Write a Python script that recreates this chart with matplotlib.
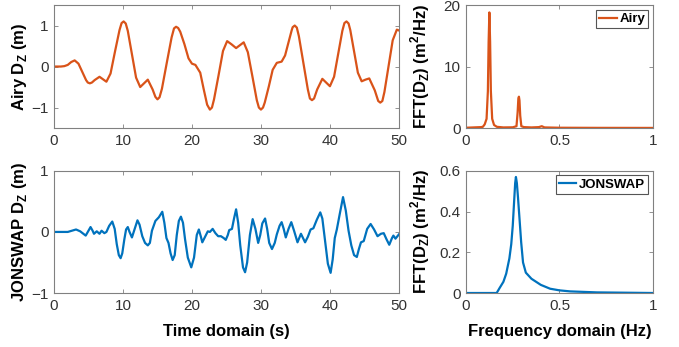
import numpy as np
import matplotlib
matplotlib.use('Agg')
import matplotlib.pyplot as plt

plt.rcParams['font.family'] = ['Liberation Sans', 'DejaVu Sans']
plt.rcParams['mathtext.fontset'] = 'custom'
plt.rcParams['mathtext.rm'] = 'Liberation Sans'
plt.rcParams['mathtext.bf'] = 'Liberation Sans:bold'

orange = '#D95319'
blue = '#0072BD'

# Airy time series (t in s, D_z in m)
airy_t = [0, 1.0, 1.5, 2.0, 2.5, 3.0, 3.55, 4.1, 4.65, 4.9, 5.2, 5.5, 5.9, 6.6, 7.1, 7.6,
          8.2, 8.85, 9.5, 9.8, 10.1, 10.4, 10.7, 11.3, 11.9, 12.5, 13.05, 13.6, 14.3, 14.7,
          15.0, 15.3, 15.65, 16.35, 17.05, 17.4, 17.7, 18.0, 18.3, 18.9, 19.5, 20.0, 20.5,
          21.2, 21.7, 22.2, 22.6, 22.9, 23.2, 23.85, 24.5, 25.1, 25.75, 26.4, 26.95, 27.5,
          28.1, 28.75, 29.4, 29.7, 30.0, 30.3, 30.55, 31.15, 31.7, 32.3, 33.0, 33.5, 33.95,
          34.45, 34.6, 34.9, 35.2, 35.5, 36.15, 36.8, 37.1, 37.4, 37.7, 38.15, 38.9, 39.45,
          40.0, 40.6, 41.2, 41.8, 42.1, 42.4, 42.7, 42.95, 43.5, 44.05, 44.6, 45.15, 45.7,
          46.5, 47.0, 47.3, 47.6, 47.9, 48.5, 49.1, 49.7, 50.0]
airy_dz = [0, 0, 0.01, 0.04, 0.11, 0.15, 0.07, -0.13, -0.33, -0.39, -0.41, -0.39, -0.33, -0.25, -0.31, -0.37,
           -0.17, 0.37, 0.89, 1.06, 1.1, 1.05, 0.87, 0.3, -0.27, -0.5, -0.41, -0.32, -0.56, -0.74,
           -0.8, -0.75, -0.54, 0.09, 0.71, 0.93, 0.97, 0.94, 0.85, 0.55, 0.2, 0.07, 0.04,
           -0.15, -0.55, -0.93, -1.05, -1.0, -0.8, -0.22, 0.38, 0.62, 0.54, 0.45, 0.52, 0.59,
           0.35, -0.23, -0.82, -1.0, -1.05, -1.0, -0.88, -0.48, -0.08, 0.09, 0.12, 0.27, 0.56,
           0.88, 0.96, 1.0, 0.95, 0.74, 0.09, -0.56, -0.78, -0.82, -0.78, -0.56, -0.3, -0.39,
           -0.48, -0.25, 0.31, 0.87, 1.06, 1.1, 1.05, 0.89, 0.37, -0.15, -0.36, -0.32, -0.29,
           -0.58, -0.84, -0.88, -0.84, -0.62, 0.01, 0.64, 0.9, 0.88]

# JONSWAP time series
jon_t = [0, 2.0, 2.6, 3.2, 3.8, 4.6, 5.0, 5.3, 5.6, 5.8, 6.2, 6.6, 6.9, 7.3, 7.6, 8.0,
         8.45, 8.8, 9.1, 9.4, 9.66, 9.9, 10.2, 10.45, 10.7, 10.95, 11.3, 11.7, 12.1,
         12.4, 12.8, 13.2, 13.6, 13.9, 14.2, 14.7, 15.2, 15.7, 16.0, 16.3, 16.6, 16.9,
         17.2, 17.5, 17.8, 18.1, 18.4, 18.7, 19.0, 19.4, 19.9, 20.3, 20.7, 21.0, 21.3,
         21.5, 21.9, 22.3, 22.6, 23.0, 23.4, 23.8, 24.2, 24.6, 24.9, 25.2, 25.4, 25.8,
         26.1, 26.4, 26.7, 27.0, 27.4, 27.7, 28.0, 28.4, 28.8, 29.2, 29.6, 29.9, 30.2,
         30.6, 30.9, 31.2, 31.6, 32.0, 32.3, 32.7, 33.0, 33.3, 33.6, 34.0, 34.4, 34.8,
         35.3, 35.8, 36.4, 36.8, 37.2, 37.6, 38.1, 38.6, 38.9, 39.3, 39.7, 40.1, 40.4,
         40.7, 41.0, 41.4, 41.9, 42.3, 42.7, 43.1, 43.5, 43.9, 44.2, 44.5, 44.9, 45.4,
         45.9, 46.4, 46.9, 47.4, 47.8, 48.2, 48.6, 49.0, 49.2, 49.5, 50.0]
jon_dz = [0, 0.0, 0.02, 0.04, 0.01, -0.06, 0.02, 0.08, 0.02, -0.03, 0.01, -0.03, 0.02, -0.02, 0.0, 0.1,
          0.17, 0.05, -0.2, -0.38, -0.43, -0.35, -0.12, 0.04, 0.08, 0.0, -0.09, 0.05, 0.19,
          0.12, -0.07, -0.18, -0.22, -0.18, 0.02, 0.18, 0.24, 0.33, 0.15, -0.1, -0.18, -0.35,
          -0.46, -0.38, -0.05, 0.18, 0.25, 0.15, -0.12, -0.42, -0.58, -0.42, -0.05, 0.04, -0.08,
          -0.17, -0.08, 0.01, 0.0, 0.05, -0.02, -0.07, -0.07, -0.1, -0.13, -0.05, 0.03, 0.05,
          0.22, 0.37, 0.15, -0.22, -0.58, -0.66, -0.5, -0.05, 0.21, 0.05, -0.18, -0.05, 0.14,
          0.22, 0.05, -0.18, -0.28, -0.18, -0.04, 0.1, 0.16, 0.05, -0.09, 0.05, 0.16, 0.02,
          -0.17, -0.03, -0.17, -0.08, 0.04, 0.06, 0.2, 0.32, 0.22, -0.15, -0.52, -0.67, -0.45,
          -0.1, 0.04, 0.28, 0.57, 0.35, 0.02, -0.22, -0.38, -0.41, -0.28, -0.17, -0.15, 0.05,
          0.13, 0.04, -0.07, -0.03, -0.02, -0.12, -0.21, -0.1, -0.06, -0.11, -0.04]

# Airy spectrum (f in Hz, m^2/Hz)
airy_f = [0, 0.04, 0.08, 0.09, 0.10, 0.11, 0.117, 0.121, 0.125, 0.129, 0.133, 0.14, 0.15,
          0.165, 0.2, 0.25, 0.27, 0.276, 0.28, 0.283, 0.286, 0.29, 0.296, 0.31, 0.35,
          0.39, 0.405, 0.42, 0.5, 0.7, 1.0]
airy_fft = [0.05, 0.1, 0.15, 0.2, 0.6, 1.5, 6, 14, 18.8, 14, 6, 1.5, 0.5,
            0.2, 0.1, 0.12, 0.3, 2.5, 4.8, 5.1, 4.5, 2.0, 0.3, 0.15, 0.1,
            0.15, 0.3, 0.1, 0.05, 0.03, 0.02]

# JONSWAP spectrum
jon_f = [0, 0.1, 0.164, 0.18, 0.2, 0.215, 0.232, 0.242, 0.25, 0.258, 0.263, 0.267, 0.272,
         0.278, 0.285, 0.295, 0.305, 0.32, 0.35, 0.4, 0.45, 0.5, 0.556, 0.7, 1.0]
jon_fft = [0, 0, 0.0, 0.025, 0.055, 0.095, 0.17, 0.24, 0.33, 0.46, 0.54, 0.57, 0.54,
           0.47, 0.38, 0.25, 0.15, 0.1, 0.07, 0.04, 0.021, 0.013, 0.008, 0.003, 0.0]

fig = plt.figure(figsize=(6.79, 3.47), dpi=100)
ax1 = fig.add_axes([0.0795, 0.631, 0.508, 0.3545])
ax2 = fig.add_axes([0.6863, 0.631, 0.2754, 0.3545])
ax3 = fig.add_axes([0.0795, 0.1556, 0.508, 0.352])
ax4 = fig.add_axes([0.6863, 0.1556, 0.2754, 0.352])

lab = dict(fontweight='bold', fontsize=12)

ax1.plot(airy_t, airy_dz, color=orange, lw=1.6)
ax1.set_xlim(0, 50)
ax1.set_ylim(-1.5, 1.5)
ax1.set_yticks([-1, 0, 1])
ax1.set_xticks([0, 10, 20, 30, 40, 50])
ax1.set_ylabel(r'Airy D$_\mathbf{Z}$ (m)', **lab)

ax2.plot(airy_f, airy_fft, color=orange, lw=1.6, label='Airy')
ax2.set_xlim(0, 1)
ax2.set_ylim(0, 20)
ax2.set_yticks([0, 10, 20])
ax2.set_xticks([0, 0.5, 1])
ax2.set_xticklabels(['0', '0.5', '1'])
ax2.set_ylabel(r'FFT(D$_\mathbf{Z}$) (m$^\mathbf{2}$/Hz)', **lab)

ax3.plot(jon_t, jon_dz, color=blue, lw=1.6)
ax3.set_xlim(0, 50)
ax3.set_ylim(-1, 1)
ax3.set_yticks([-1, 0, 1])
ax3.set_xticks([0, 10, 20, 30, 40, 50])
ax3.set_ylabel(r'JONSWAP D$_\mathbf{Z}$ (m)', **lab)
ax3.set_xlabel('Time domain (s)', **lab)

ax4.plot(jon_f, jon_fft, color=blue, lw=1.6, label='JONSWAP')
ax4.set_xlim(0, 1)
ax4.set_ylim(0, 0.6)
ax4.set_yticks([0, 0.2, 0.4, 0.6])
ax4.set_yticklabels(['0', '0.2', '0.4', '0.6'])
ax4.set_xticks([0, 0.5, 1])
ax4.set_xticklabels(['0', '0.5', '1'])
ax4.set_ylabel(r'FFT(D$_\mathbf{Z}$) (m$^\mathbf{2}$/Hz)', **lab)
ax4.set_xlabel('Frequency domain (Hz)', **lab)

for ax in [ax1, ax2, ax3, ax4]:
    for s in ax.spines.values():
        s.set_color('#808080')
        s.set_linewidth(0.8)
    ax.tick_params(direction='in', length=3, width=0.6, color='#808080',
                   labelcolor='#333333', labelsize=11, top=True, right=True, pad=4)
    ax.xaxis.set_label_coords(0.5, -0.25)

ax1.yaxis.set_label_coords(-0.072, 0.5)
ax3.yaxis.set_label_coords(-0.072, 0.5)
ax2.yaxis.set_label_coords(-0.18, 0.5)
ax4.yaxis.set_label_coords(-0.18, 0.5)

for ax in [ax2, ax4]:
    leg = ax.legend(loc='upper right', fancybox=False, framealpha=1, edgecolor='#555555',
                    prop={'weight': 'bold', 'size': 9.5}, handlelength=1.3, handletextpad=0.2,
                    borderpad=0.25, borderaxespad=0.35)
    leg.get_frame().set_linewidth(0.8)

fig.savefig('out.png', dpi=100)
